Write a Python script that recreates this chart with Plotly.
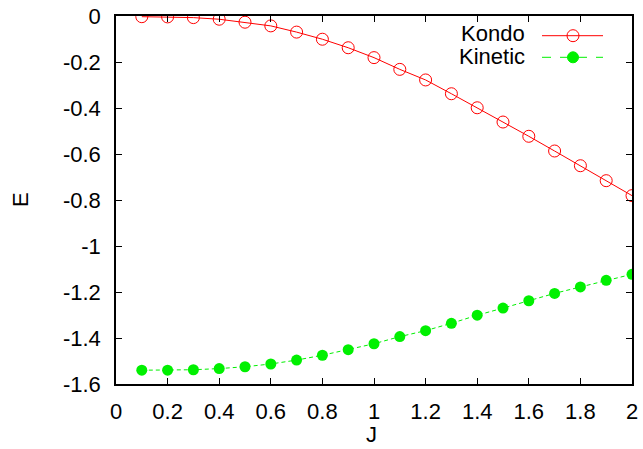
import plotly.graph_objects as go

# Coupling values J and the two energy contributions
J = [0.1, 0.2, 0.3, 0.4, 0.5, 0.6, 0.7, 0.8, 0.9, 1.0,
     1.1, 1.2, 1.3, 1.4, 1.5, 1.6, 1.7, 1.8, 1.9, 2.0]
kondo = [-0.003, -0.004, -0.007, -0.014, -0.027, -0.043, -0.070, -0.101, -0.138, -0.181,
         -0.232, -0.278, -0.338, -0.399, -0.461, -0.523, -0.587, -0.651, -0.716, -0.781]
kinetic = [-1.540, -1.540, -1.538, -1.533, -1.525, -1.513, -1.496, -1.475, -1.451, -1.425,
           -1.394, -1.368, -1.336, -1.301, -1.270, -1.238, -1.206, -1.178, -1.149, -1.123]

x_ticks = [0, 0.2, 0.4, 0.6, 0.8, 1, 1.2, 1.4, 1.6, 1.8, 2]
x_labels = ["0", "0.2", "0.4", "0.6", "0.8", "1", "1.2", "1.4", "1.6", "1.8", "2"]
y_ticks = [0, -0.2, -0.4, -0.6, -0.8, -1, -1.2, -1.4, -1.6]
y_labels = ["0", "-0.2", "-0.4", "-0.6", "-0.8", "-1", "-1.2", "-1.4", "-1.6"]

RED = "#ff0000"
GREEN = "#00f000"
FONT = "Liberation Sans, Arial, sans-serif"
FSIZE = 22

fig = go.Figure()
fig.add_trace(go.Scatter(
    x=J, y=kondo, name="Kondo", mode="lines+markers",
    line=dict(color=RED, width=1),
    marker=dict(symbol="circle-open", size=12, color=RED, line=dict(width=1, color=RED)),
))
fig.add_trace(go.Scatter(
    x=J, y=kinetic, name="Kinetic", mode="lines+markers",
    line=dict(color=GREEN, width=1, dash="4px,3px"),
    marker=dict(symbol="circle", size=11, color=GREEN),
))

axis_common = dict(
    showgrid=False, zeroline=False, showline=True, linecolor="black", linewidth=1.5,
    mirror="ticks", ticks="inside", ticklen=6, tickwidth=1, tickcolor="black",
    automargin=False,
    tickfont=dict(family=FONT, size=FSIZE, color="black"),
)
fig.update_xaxes(range=[0, 2], tickmode="array", tickvals=x_ticks, ticktext=x_labels,
                 ticklabelstandoff=7, **axis_common)
fig.update_yaxes(range=[-1.6, 0], tickmode="array", tickvals=y_ticks, ticktext=y_labels,
                 ticklabelstandoff=9, **axis_common)


def py(pixel_y):
    """Convert a pixel row of the page into a paper y coordinate."""
    return (384 - pixel_y) / 368


def px(pixel_x):
    """Convert a pixel column of the page into a paper x coordinate."""
    return (pixel_x - 116) / 516


# Gnuplot-style key: label on the left, line sample with marker on the right
key_rows = [("Kondo", 33.0, 35.7, RED, "solid", "rgba(0,0,0,0)", 6),
            ("Kinetic", 56.3, 57.3, GREEN, "dash", GREEN, 5.5)]
shapes = []
annotations = []
for label, text_y, line_y, col, dash, fill, r in key_rows:
    annotations.append(dict(xref="paper", yref="paper", x=px(527), y=py(text_y),
                            text=label, showarrow=False, xanchor="right", yanchor="middle",
                            font=dict(family=FONT, size=FSIZE, color="black")))
    shapes.append(dict(type="line", xref="paper", yref="paper",
                       x0=px(542), x1=px(603), y0=py(line_y), y1=py(line_y),
                       line=dict(color=col, width=1, dash=dash)))
    shapes.append(dict(type="circle", xref="paper", yref="paper",
                       xsizemode="pixel", ysizemode="pixel",
                       xanchor=px(573), yanchor=py(line_y),
                       x0=-r, x1=r, y0=-r, y1=r, fillcolor=fill,
                       line=dict(color=col, width=1)))

# Axis titles
annotations.append(dict(xref="paper", yref="paper", x=px(20), y=0.5, text="E",
                        showarrow=False, textangle=-90, xanchor="center", yanchor="middle",
                        font=dict(family=FONT, size=FSIZE, color="black")))
annotations.append(dict(xref="paper", yref="paper", x=px(371), y=py(449),
                        text="J", showarrow=False, xanchor="center", yanchor="bottom",
                        font=dict(family=FONT, size=FSIZE, color="black")))

fig.update_layout(
    width=643, height=449, showlegend=False,
    margin=dict(l=116, r=11, t=16, b=65),
    paper_bgcolor="white", plot_bgcolor="white",
    shapes=shapes, annotations=annotations,
)

fig.write_html("out.html")
